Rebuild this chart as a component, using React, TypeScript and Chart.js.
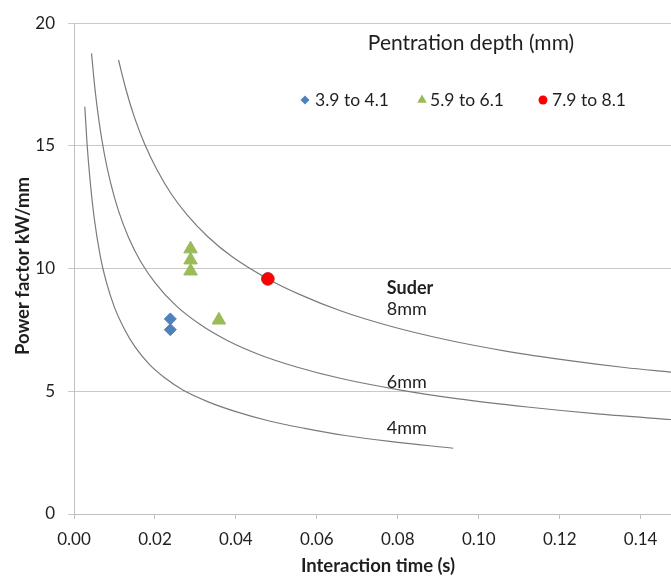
import React, { useEffect, useRef } from 'react';
import { Chart, registerables } from 'chart.js';

Chart.register(...registerables);

const FONT = 'Lato, "Open Sans", sans-serif';
const TEXT = '#1f1f1f';

// axis ticks
const xTickValues = [0, 0.02, 0.04, 0.06, 0.08, 0.1, 0.12, 0.14];
const yTickValues = [0, 5, 10, 15, 20];
const xAxisTitle = 'Interaction time (s)';
const yAxisTitle = 'Power factor kW/mm';

// measured points (penetration depth groups)
const depth4Time = [0.0238, 0.0238];
const depth4Power = [7.95, 7.51];
const depth6Time = [0.0288, 0.0288, 0.0288, 0.0358];
const depth6Power = [10.8, 10.35, 9.9, 7.9];
const depth8Time = [0.0479];
const depth8Power = [9.58];

// Suder model curves
const suder4Time = [0.00267, 0.0032, 0.004, 0.005, 0.0065, 0.008, 0.01, 0.0125, 0.015, 0.0185, 0.0225, 0.027, 0.033, 0.04, 0.048, 0.057, 0.067, 0.078, 0.0937];
const suder4Power = [16.6, 15.15, 13.55, 12.05, 10.5, 9.45, 8.42, 7.52, 6.83, 6.12, 5.54, 5.04, 4.58, 4.17, 3.8, 3.49, 3.2, 2.96, 2.68];
const suder6Time = [0.00433, 0.0052, 0.0062, 0.0075, 0.009, 0.011, 0.0135, 0.0165, 0.02, 0.025, 0.031, 0.038, 0.046, 0.055, 0.066, 0.08, 0.095, 0.112, 0.13, 0.1475];
const suder6Power = [18.77, 17.29, 15.98, 14.67, 13.52, 12.35, 11.26, 10.28, 9.43, 8.52, 7.74, 7.06, 6.48, 5.99, 5.52, 5.07, 4.69, 4.36, 4.07, 3.85];
const suder8Time = [0.011, 0.0128, 0.015, 0.0175, 0.0205, 0.024, 0.028, 0.033, 0.039, 0.0479, 0.056, 0.066, 0.078, 0.092, 0.107, 0.122, 0.136, 0.1475];
const suder8Power = [18.5, 17.32, 16.13, 15.06, 14.03, 13.05, 12.18, 11.31, 10.49, 9.58, 8.93, 8.27, 7.66, 7.1, 6.63, 6.26, 5.97, 5.78];

// legend + annotations
const legendTitle = 'Pentration depth (mm)';
const legendLabels = ['3.9 to 4.1', '5.9 to 6.1', '7.9 to 8.1'];
const curveLabels = ['Suder', '8mm', '6mm', '4mm'];
const curveLabelTime = 0.0773;
const curveLabelPower = [9.22, 8.33, 5.39, 3.5];

const BLUE = '#4f81bd';
const GREEN = '#9bbb59';
const RED = '#ff0000';

const pts = (xs: number[], ys: number[]) => xs.map((x, i) => ({ x, y: ys[i] }));

function drawMarker(ctx: CanvasRenderingContext2D, kind: number, x: number, y: number) {
  ctx.beginPath();
  if (kind === 0) {
    const r = 4.5;
    ctx.moveTo(x, y - r);
    ctx.lineTo(x + r, y);
    ctx.lineTo(x, y + r);
    ctx.lineTo(x - r, y);
    ctx.closePath();
    ctx.fillStyle = BLUE;
    ctx.fill();
  } else if (kind === 1) {
    const r = 5.5;
    ctx.moveTo(x, y - r);
    ctx.lineTo(x + r * 0.866, y + r * 0.5);
    ctx.lineTo(x - r * 0.866, y + r * 0.5);
    ctx.closePath();
    ctx.fillStyle = GREEN;
    ctx.fill();
  } else {
    ctx.arc(x, y, 4.5, 0, Math.PI * 2);
    ctx.fillStyle = RED;
    ctx.fill();
  }
}

const overlayPlugin = {
  id: 'overlay',
  afterDatasetsDraw(chart: any) {
    const { ctx, scales } = chart;
    const xs = scales.x;
    const ys = scales.y;
    ctx.save();
    ctx.fillStyle = TEXT;
    ctx.font = `21px ${FONT}`;
    ctx.textAlign = 'center';
    ctx.textBaseline = 'middle';
    ctx.fillText(legendTitle, 471, 43);

    const markerX = [305, 422, 543];
    const textX = [315, 430, 552];
    legendLabels.forEach((lab, i) => {
      drawMarker(ctx, i, markerX[i], 100);
      ctx.fillStyle = TEXT;
      ctx.font = `17.5px ${FONT}`;
      ctx.textAlign = 'left';
      ctx.textBaseline = 'middle';
      ctx.fillText(lab, textX[i], 100);
    });

    const lx = xs.getPixelForValue(curveLabelTime);
    curveLabels.forEach((lab, i) => {
      ctx.fillStyle = TEXT;
      ctx.font = `${i === 0 ? 'bold ' : ''}18px ${FONT}`;
      ctx.textAlign = 'left';
      ctx.textBaseline = 'middle';
      ctx.fillText(lab, lx, ys.getPixelForValue(curveLabelPower[i]));
    });

    // axis titles
    ctx.fillStyle = TEXT;
    ctx.font = `bold 18.5px ${FONT}`;
    ctx.textAlign = 'center';
    ctx.textBaseline = 'middle';
    ctx.fillText(xAxisTitle, 378, 566);
    ctx.translate(23, 266);
    ctx.rotate(-Math.PI / 2);
    ctx.fillText(yAxisTitle, 0, 0);
    ctx.restore();
  },
};

export default function App() {
  const ref = useRef<HTMLCanvasElement | null>(null);

  useEffect(() => {
    if (!ref.current) return;
    const curve = (xs: number[], ys: number[]) => ({
      data: pts(xs, ys),
      showLine: true,
      borderColor: '#7a7a7a',
      borderWidth: 1.2,
      pointRadius: 0,
      pointHoverRadius: 0,
      cubicInterpolationMode: 'monotone' as const,
      fill: false,
      order: 2,
    });
    const chart = new Chart(ref.current, {
      type: 'scatter',
      data: {
        datasets: [
          {
            label: legendLabels[0],
            data: pts(depth4Time, depth4Power),
            pointStyle: 'rectRot',
            pointRadius: 6,
            backgroundColor: BLUE,
            borderColor: BLUE,
            borderWidth: 1,
            order: 0,
          },
          {
            label: legendLabels[1],
            data: pts(depth6Time, depth6Power),
            pointStyle: 'triangle',
            pointRadius: 7.8,
            backgroundColor: GREEN,
            borderColor: GREEN,
            borderWidth: 1,
            order: 0,
          },
          {
            label: legendLabels[2],
            data: pts(depth8Time, depth8Power),
            pointStyle: 'circle',
            pointRadius: 6.3,
            backgroundColor: RED,
            borderColor: '#b22222',
            borderWidth: 1,
            order: 0,
          },
          { label: 'Suder 4mm', ...curve(suder4Time, suder4Power) },
          { label: 'Suder 6mm', ...curve(suder6Time, suder6Power) },
          { label: 'Suder 8mm', ...curve(suder8Time, suder8Power) },
        ],
      },
      options: {
        responsive: false,
        animation: false,
        layout: { autoPadding: false, padding: { top: 17, left: 0, right: 0, bottom: 0 } },
        plugins: {
          legend: { display: false },
          tooltip: { enabled: false },
          title: { display: false },
        },
        scales: {
          x: {
            type: 'linear',
            position: 'bottom',
            min: 0,
            max: 0.1475,
            afterBuildTicks: (s: any) => {
              s.ticks = xTickValues.map((v) => ({ value: v }));
            },
            afterFit: (s: any) => {
              s.height = 65;
              s.paddingRight = 0;
              s.paddingLeft = 0;
            },
            ticks: {
              autoSkip: false,
              maxRotation: 0,
              padding: 10,
              color: TEXT,
              font: { family: FONT, size: 17 },
              callback: (v: any) => Number(v).toFixed(2),
            },
            grid: { drawOnChartArea: false, drawTicks: true, tickLength: 5, color: '#bfbfbf' },
            border: { display: true, color: '#bfbfbf' },
            title: { display: false },
          },
          y: {
            type: 'linear',
            min: 0,
            max: 20,
            afterBuildTicks: (s: any) => {
              s.ticks = yTickValues.map((v) => ({ value: v }));
            },
            afterFit: (s: any) => {
              s.width = 74;
            },
            ticks: {
              padding: 13,
              color: TEXT,
              font: { family: FONT, size: 17 },
            },
            grid: {
              tickLength: 6,
              color: (c: any) => (c.tick && c.tick.value === 20 ? '#b9cde5' : '#c8c8c8'),
            },
            border: { display: true, color: '#bfbfbf' },
            title: { display: false },
          },
        },
      },
      plugins: [overlayPlugin],
    });
    return () => chart.destroy();
  }, []);

  return (
    <div style={{ position: 'fixed', left: 0, top: 0, width: 671, height: 579, background: '#fff' }}>
      <canvas ref={ref} width={671} height={579} style={{ display: 'block' }} />
    </div>
  );
}
